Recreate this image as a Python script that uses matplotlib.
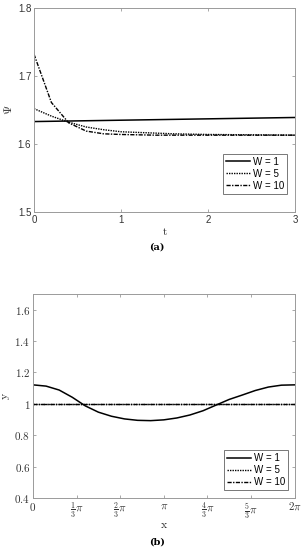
import numpy as np
import matplotlib
matplotlib.use("Agg")
import matplotlib.pyplot as plt

plt.rcParams['mathtext.fontset'] = 'cm'

# ---- data panel (a) ----
t = [0.0, 0.2, 0.4, 0.6, 0.8, 1.0, 1.2, 1.4, 1.6, 2.0, 2.5, 3.0]
psi_w1 = [1.633, 1.6334, 1.6338, 1.6342, 1.6346, 1.635, 1.6354, 1.6358, 1.6362, 1.637, 1.638, 1.639]
psi_w5 = [1.652, 1.641, 1.632, 1.625, 1.621, 1.618, 1.617, 1.616, 1.615, 1.614, 1.6135, 1.613]
psi_w10 = [1.732, 1.661, 1.631, 1.619, 1.615, 1.614, 1.6135, 1.613, 1.613, 1.613, 1.613, 1.613]

# ---- data panel (b) ----
x_over_pi = [0, 0.1, 0.2, 0.3, 0.4, 0.5, 0.6, 0.7, 0.8, 0.9, 1.0, 1.1, 1.2, 1.3, 1.4, 1.5, 1.6, 1.7, 1.8, 1.9, 2.0]
y_w1 = [1.121, 1.113, 1.088, 1.042, 0.987, 0.947, 0.921, 0.904, 0.895, 0.893, 0.898, 0.910, 0.929, 0.956, 0.992, 1.028, 1.056, 1.085, 1.107, 1.119, 1.121]
y_w5 = [1.0] * len(x_over_pi)
y_w10 = [1.0] * len(x_over_pi)

labels = ['W = 1', 'W = 5', 'W = 10']
xticklabels_b = ['$0$', r'$\frac{1}{3}\pi$', r'$\frac{2}{3}\pi$', r'$\pi$',
                 r'$\frac{4}{3}\pi$', r'$\frac{5}{3}\pi$', r'$2\pi$']

fig = plt.figure(figsize=(3.02, 5.5), dpi=100)
spine_col = '#9a9a9a'
tick_col = '#333333'

def style(ax):
    for s in ax.spines.values():
        s.set_color(spine_col)
        s.set_linewidth(0.7)
    ax.tick_params(direction='in', length=2.5, width=0.6, color=spine_col,
                   top=True, right=True, labelcolor=tick_col, pad=2)

# panel (a)
ax1 = fig.add_axes([0.1126, 0.6145, 0.8642, 0.371])
ax1.plot(t, psi_w1, '-', color='black', lw=1.1, label=labels[0])
ax1.plot(t, psi_w5, linestyle=(0, (1, 0.8)), color='black', lw=1.0, label=labels[1])
ax1.plot(t, psi_w10, linestyle=(0, (3, 1, 1, 1)), color='black', lw=1.0, label=labels[2])
ax1.set_xlim(0, 3)
ax1.set_ylim(1.5, 1.8)
ax1.set_xticks([0, 1, 2, 3])
ax1.set_yticks([1.5, 1.6, 1.7, 1.8])
ax1.set_xticklabels(['0', '1', '2', '3'], fontsize=7, family='Liberation Sans')
ax1.set_yticklabels(['1.5', '1.6', '1.7', '1.8'], fontsize=7, family='Liberation Sans')
style(ax1)
ax1.set_xlabel(r'$\mathrm{t}$', fontsize=8, labelpad=1, color=tick_col)
ax1.set_ylabel(r'$\Psi$', fontsize=8.5, labelpad=2, color=tick_col)
leg1 = ax1.legend(loc='lower right', bbox_to_anchor=(0.97, 0.09),
                  prop={'family': 'Liberation Sans', 'size': 7},
                  frameon=True, fancybox=False, edgecolor='#555555',
                  handlelength=2.5, handletextpad=0.3, borderpad=0.3,
                  labelspacing=0.2, borderaxespad=0)
leg1.get_frame().set_linewidth(0.7)
fig.text(0.52, 0.551, '(a)', ha='center', va='center', fontsize=7,
         family='DejaVu Serif', fontweight='bold')

# panel (b)
ax2 = fig.add_axes([0.1093, 0.0945, 0.8659, 0.371])
xv = np.array(x_over_pi) * np.pi
ax2.plot(xv, y_w1, '-', color='black', lw=1.1, label=labels[0])
ax2.plot(xv, y_w5, linestyle=(0, (1, 0.8)), color='black', lw=1.0, label=labels[1])
ax2.plot(xv, y_w10, linestyle=(0, (3, 1, 1, 1)), color='black', lw=1.0, label=labels[2])
ax2.set_xlim(0, 2 * np.pi)
ax2.set_ylim(0.4, 1.7)
ax2.set_xticks(np.arange(7) * np.pi / 3)
ax2.set_xticklabels(xticklabels_b, fontsize=8)
ax2.set_yticks([0.4, 0.6, 0.8, 1.0, 1.2, 1.4, 1.6])
ax2.set_yticklabels(['$0.4$', '$0.6$', '$0.8$', '$1$', '$1.2$', '$1.4$', '$1.6$'], fontsize=8)
style(ax2)
ax2.set_xlabel(r'$\mathrm{x}$', fontsize=8.5, labelpad=-2, color=tick_col)
ax2.set_ylabel(r'$\mathrm{y}$', fontsize=8.5, labelpad=2, color=tick_col)
leg2 = ax2.legend(loc='lower right', bbox_to_anchor=(0.975, 0.04),
                  prop={'family': 'Liberation Sans', 'size': 7},
                  frameon=True, fancybox=False, edgecolor='#555555',
                  handlelength=2.5, handletextpad=0.3, borderpad=0.3,
                  labelspacing=0.2, borderaxespad=0)
leg2.get_frame().set_linewidth(0.7)
fig.text(0.52, 0.015, '(b)', ha='center', va='center', fontsize=7,
         family='DejaVu Serif', fontweight='bold')

fig.savefig('out.png', dpi=100)
